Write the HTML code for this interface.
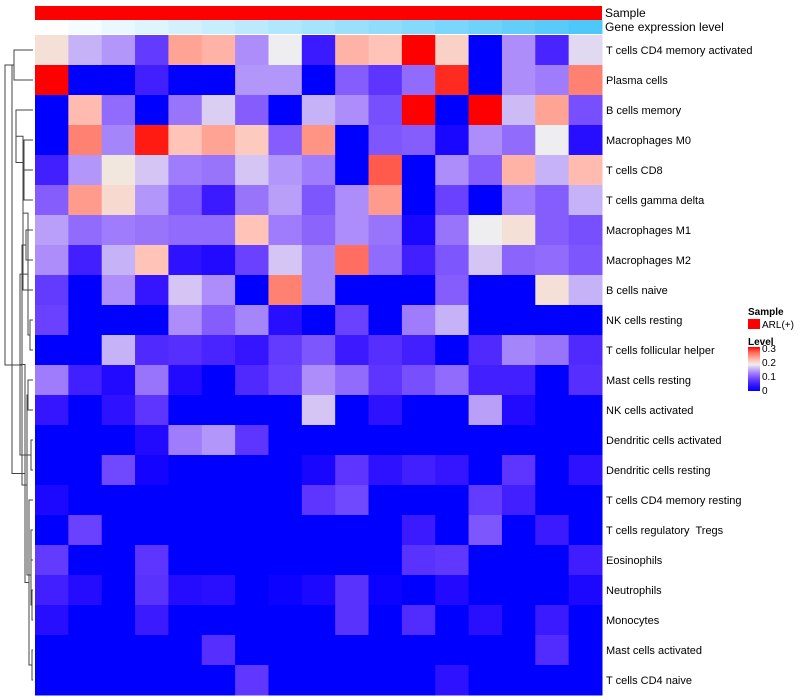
<!DOCTYPE html>
<html><head><meta charset="utf-8"><style>
html,body{margin:0;padding:0;background:#fff;}
svg{display:block;font-family:"Liberation Sans",sans-serif;}
text{white-space:pre;}
</style></head><body>
<svg id="chart" width="800" height="700"></svg>
<script>
const rowLabels=["T cells CD4 memory activated","Plasma cells","B cells memory","Macrophages M0","T cells CD8","T cells gamma delta","Macrophages M1","Macrophages M2","B cells naive","NK cells resting","T cells follicular helper","Mast cells resting","NK cells activated","Dendritic cells activated","Dendritic cells resting","T cells CD4 memory resting","T cells regulatory  Tregs","Eosinophils","Neutrophils","Monocytes","Mast cells activated","T cells CD4 naive"];
const geneLevel=[0,1,2,3,4,5,6,7,8,9,10,11,12,13,14,15,16];
const values=[
[.19,.15,.135,.075,.23,.22,.13,.18,.045,.22,.21,.3,.2,0,.13,.055,.17],
[.3,0,0,.05,0,0,.135,.135,0,.1,.07,.11,.29,0,.13,.12,.25],
[0,.215,.11,0,.115,.165,.1,0,.15,.13,.09,.3,0,.3,.155,.23,.09],
[0,.25,.125,.295,.21,.23,.205,.1,.24,0,.095,.1,.02,.13,.11,.18,.03],
[.05,.135,.185,.16,.12,.115,.16,.135,.12,0,.27,0,.13,.1,.22,.15,.215],
[.1,.235,.195,.135,.095,.045,.115,.14,.095,.13,.235,0,.08,0,.12,.1,.15],
[.14,.11,.12,.115,.11,.11,.21,.12,.105,.13,.115,.02,.115,.18,.19,.1,.09],
[.13,.05,.15,.21,.035,.025,.08,.16,.125,.26,.11,.05,.095,.16,.105,.11,.095],
[.075,0,.13,.04,.16,.13,0,.25,.125,0,0,0,.1,0,0,.19,.15],
[.08,0,0,0,.13,.1,.125,.03,0,.08,0,.12,.15,0,0,0,0],
[0,0,.15,.06,.065,.055,.04,.075,.095,.045,.065,.05,0,.06,.125,.115,.06],
[.12,.05,.025,.115,.025,0,.06,.08,.13,.11,.07,.09,.11,.05,.05,0,.065],
[.04,0,.035,.07,0,0,0,0,.16,0,.035,0,0,.14,.025,0,0],
[0,0,0,.025,.12,.135,.07,0,0,0,0,0,0,0,0,0,0],
[0,0,.085,.015,0,0,0,0,.018,.07,.035,.05,.04,0,.07,0,.035],
[.022,0,0,0,0,0,0,0,.07,.085,0,0,0,.075,.05,0,0],
[0,.08,0,0,0,0,0,0,0,0,0,.045,0,.095,0,.045,0],
[.075,0,0,.07,0,0,0,0,0,0,0,.068,.072,0,0,0,.048],
[.05,.028,0,.068,.028,.032,0,.008,.022,.068,.008,0,.025,0,0,0,.022],
[.03,0,0,.045,0,0,0,0,0,.068,0,.062,0,.032,0,.045,0],
[0,0,0,0,0,.065,0,0,0,0,0,0,0,0,0,.062,0],
[0,0,0,0,0,0,.072,0,0,0,0,0,.035,0,0,0,0]];
const merges=[[0,1,14],[4,5,24],[3,23,24],[2,24,16],[6,7,26],[25,8,23],[13,14,31],[9,10,30],[27,29,28],[28,30,20],[11,12,28],[16,17,31],[18,19,32],[20,21,32],[33,34,31],[35,15,29],[36,32,27],[37,31,25],[38,26,22],[39,22,12],[22,40,5]];
const svg=document.getElementById('chart');const NS='http://www.w3.org/2000/svg';
const X0=35,X1=602,Y0=35,Y1=695;
const cw=(X1-X0)/17,rh=(Y1-Y0)/22;
const xs=i=>X0+i*cw, ys=i=>Y0+i*rh;
function color(v){const mid=0.18;
 if(v<=mid){const s=Math.max(0,v/mid);const r=Math.round(238*s),g=Math.round(238*Math.pow(s,1.6)),b=Math.round(255-15*Math.pow(s,3));return `rgb(${r},${g},${b})`;}
 const u=Math.min(1,(v-mid)/0.12);const r=Math.round(238+17*Math.min(1,u*4)),g=Math.round(238*Math.pow(1-u,0.7)),b=Math.round(230*Math.pow(1-u,0.8));return `rgb(${r},${g},${b})`;}
function el(t,a,txt){const e=document.createElementNS(NS,t);for(const k in a)e.setAttribute(k,a[k]);if(txt!==undefined)e.textContent=txt;svg.appendChild(e);return e;}
let e=el('rect',{x:X0,y:6,width:X1-X0,height:14,fill:'#ff0000'});


geneLevel.forEach((g,i)=>{const t=g/16;const r=Math.round(255-(255-77)*t),gg=Math.round(255-(255-200)*t),b=Math.round(255-(255-248)*t);
 const c=el('rect',{x:xs(i),y:20,width:cw+0.5,height:14,fill:`rgb(${r},${gg},${b})`});
 
 });
e=el('text',{x:605,y:17,'font-size':12,fill:'#000'},'Sample');


e=el('text',{x:605,y:31,'font-size':12,fill:'#000'},'Gene expression level');


values.forEach((row,r)=>row.forEach((v,c)=>{const rc=el('rect',{x:xs(c),y:ys(r),width:cw+0.5,height:rh+0.5,fill:color(v)});
 
 }));
rowLabels.forEach((l,r)=>{const t=el('text',{x:606,y:ys(r)+rh/2+4,'font-size':11,fill:'#000'},l);
 
 });
const pos={};for(let i=0;i<22;i++)pos[i]={y:ys(i)+rh/2,x:33};
merges.forEach((m,k)=>{const a=pos[m[0]],b=pos[m[1]],x=m[2];
 const p=el('path',{d:`M${a.x},${a.y}H${x}V${b.y}H${b.x}`,fill:'none',stroke:'#444','stroke-width':1});
 
 
 pos[22+k]={x:x,y:(a.y+b.y)/2};});
e=el('text',{x:748,y:315,'font-size':10,'font-weight':'bold'},'Sample');


e=el('rect',{x:748,y:319,width:12,height:10,fill:'#ff0000'});


e=el('text',{x:762,y:328,'font-size':10},'ARL(+)');


e=el('text',{x:748,y:345,'font-size':10,'font-weight':'bold'},'Level');


const defs=el('defs',{});const lg=document.createElementNS(NS,'linearGradient');lg.setAttribute('id','lvl');lg.setAttribute('x1','0');lg.setAttribute('y1','1');lg.setAttribute('x2','0');lg.setAttribute('y2','0');defs.appendChild(lg);
for(let i=0;i<=10;i++){const st=document.createElementNS(NS,'stop');st.setAttribute('offset',i/10);st.setAttribute('stop-color',color(0.3*i/10));lg.appendChild(st);}
e=el('rect',{x:748,y:347,width:12,height:44,fill:'url(#lvl)'});


[['0.3',352],['0.2',366],['0.1',380],['0',394]].forEach(d=>{const t=el('text',{x:762,y:d[1],'font-size':10},d[0]);
 
 });
</script>
</body></html>
